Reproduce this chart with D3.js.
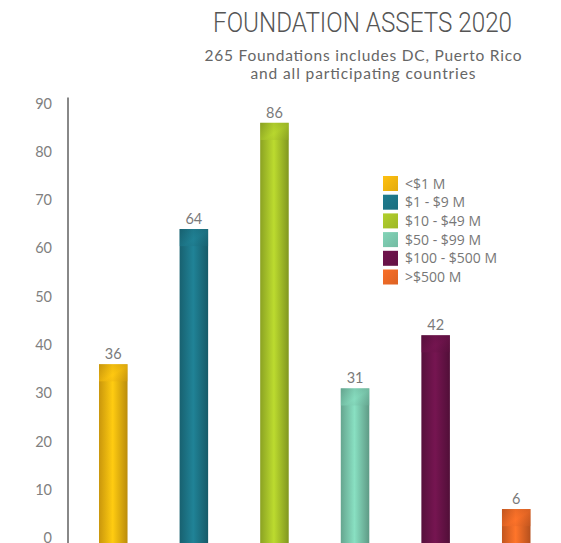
<!DOCTYPE html>
<html><head><meta charset="utf-8">
<script src="https://cdn.jsdelivr.net/npm/d3@7"></script>
<style>html,body{margin:0;padding:0;background:#fff;overflow:hidden}</style>
</head><body>
<script>
const categories = ["<$1 M", "$1 - $9 M", "$10 - $49 M", "$50 - $99 M", "$100 - $500 M", ">$500 M"];
const values = [36, 64, 86, 31, 42, 6];
const colors = ["#f4b70f", "#1d7688", "#a9c52a", "#7bc9ae", "#6a1349", "#ec6926"];
const yTicks = [0, 10, 20, 30, 40, 50, 60, 70, 80, 90];
const title = "FOUNDATION ASSETS 2020";
const subtitle = ["265 Foundations includes DC, Puerto Rico", "and all participating countries"];
const subtitleWidths = [317, 225];

const W = 561, H = 543;
const svg = d3.select("body").append("svg").attr("width", W).attr("height", H);
const defs = svg.append("defs");

const y = d3.scaleLinear().domain([0, 90]).range([538, 103.5]);
const x = d3.scaleBand().domain(categories).range([99, 530.5]).paddingInner(0.646).paddingOuter(0);

// gradients
colors.forEach((c, i) => {
  const g = defs.append("linearGradient").attr("id", "g" + i).attr("x1", "0").attr("x2", "1").attr("y1", "0").attr("y2", "0");
  const base = d3.color(c);
  g.append("stop").attr("offset", "0%").attr("stop-color", base.darker(0.55));
  g.append("stop").attr("offset", "48%").attr("stop-color", base.brighter(0.3));
  g.append("stop").attr("offset", "100%").attr("stop-color", base.darker(0.75));
  const t = defs.append("linearGradient").attr("id", "t" + i).attr("x1", "0").attr("x2", "1").attr("y1", "0").attr("y2", "1");
  t.append("stop").attr("offset", "0%").attr("stop-color", base.darker(0.6));
  t.append("stop").attr("offset", "55%").attr("stop-color", base.brighter(0.2));
  t.append("stop").attr("offset", "100%").attr("stop-color", base.darker(0.4));
  const l = defs.append("linearGradient").attr("id", "l" + i).attr("x1", "0").attr("x2", "1").attr("y1", "0").attr("y2", "1");
  l.append("stop").attr("offset", "0%").attr("stop-color", base.brighter(0.15));
  l.append("stop").attr("offset", "100%").attr("stop-color", base.darker(0.2));
});

// title
svg.append("text").attr("x", 362.5).attr("y", 32).attr("text-anchor", "middle")
  .attr("font-family", "Roboto").attr("font-weight", 300).attr("font-size", 28)
  .attr("fill", "#555").attr("textLength", 299).attr("lengthAdjust", "spacingAndGlyphs").text(title);
svg.selectAll(".sub").data(subtitle).join("text")
  .attr("x", 363).attr("y", (d, i) => 60.5 + i * 18).attr("text-anchor", "middle")
  .attr("font-family", "Lato").attr("font-size", 15.5)
  .attr("textLength", (d, i) => subtitleWidths[i]).attr("lengthAdjust", "spacing")
  .attr("fill", "#666").text(d => d);

// y axis
const yAxis = d3.axisLeft(y).tickValues(yTicks).tickSize(0).tickPadding(0);
const ax = svg.append("g").attr("transform", "translate(52,0)").call(yAxis);
ax.select(".domain").remove();
ax.selectAll("text").attr("font-family", "Lato").attr("font-size", 14.5).attr("fill", "#808080");
svg.append("line").attr("x1", 68).attr("x2", 68).attr("y1", y(90) - 6).attr("y2", H)
  .attr("stroke", "#888").attr("stroke-width", 2);

// bars
const bars = svg.append("g");
categories.forEach((c, i) => {
  const bx = x(c), bw = x.bandwidth(), top = y(values[i]);
  bars.append("rect").attr("x", bx).attr("y", top).attr("width", bw).attr("height", y(0) - top + 10)
    .attr("fill", `url(#g${i})`);
  const cap = Math.min(bw * 0.6, y(0) - top);
  bars.append("rect").attr("x", bx).attr("y", top).attr("width", bw).attr("height", cap)
    .attr("fill", `url(#t${i})`).attr("opacity", 0.5);
  svg.append("text").attr("x", bx + bw / 2).attr("y", top - 5).attr("text-anchor", "middle")
    .attr("font-family", "Lato").attr("font-size", 14.5).attr("fill", "#7a7a7a").text(values[i]);
});

// legend
const lg = svg.append("g").attr("transform", "translate(383,176)");
categories.forEach((c, i) => {
  const row = lg.append("g").attr("transform", `translate(0,${i * 18.7})`);
  row.append("rect").attr("width", 15).attr("height", 15).attr("fill", `url(#l${i})`);
  row.append("text").attr("x", 22).attr("y", 12.5).attr("font-family", "Open Sans")
    .attr("font-size", 14).attr("fill", "#777").text(c);
});
</script>
</body></html>
